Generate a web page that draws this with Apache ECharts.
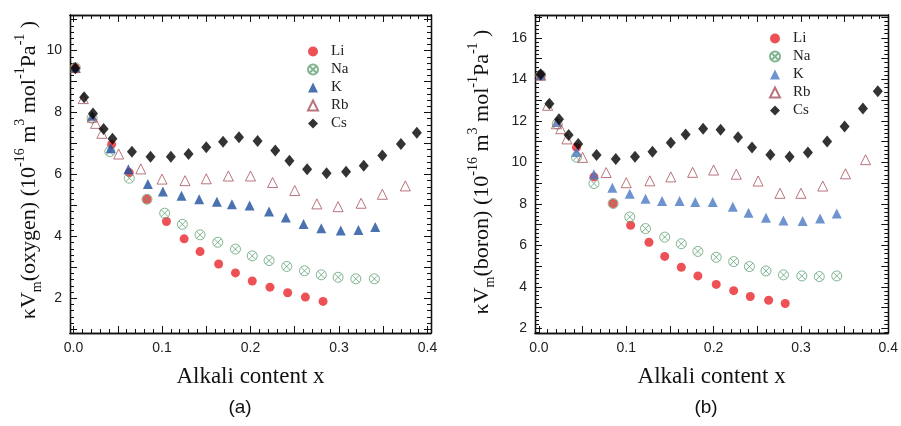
<!DOCTYPE html>
<html>
<head>
<meta charset="utf-8">
<script src="https://cdn.jsdelivr.net/npm/echarts@6/dist/echarts.min.js"></script>
<style>
html, body { margin: 0; padding: 0; background: #fff; }
#main { width: 901px; height: 426px; }
</style>
</head>
<body>
<div id="main"></div>
<script>
// tick labels
var xTickLabels = [0, 0.1, 0.2, 0.3, 0.4];
var yTickLabelsO = [2, 4, 6, 8, 10];
var yTickLabelsB = [2, 4, 6, 8, 10, 12, 14, 16];
var seriesNames = ['Li', 'Na', 'K', 'Rb', 'Cs'];

// (a) kappa*Vm (oxygen), pairs [x, value]
var oxLi = [[0.002,9.45],[0.043,6.97],[0.063,6.06],[0.083,5.2],[0.105,4.48],[0.125,3.92],[0.143,3.51],[0.164,3.11],[0.183,2.82],[0.202,2.56],[0.222,2.36],[0.242,2.18],[0.262,2.04],[0.282,1.9]];
var oxNa = [[0.002,9.45],[0.021,7.82],[0.041,6.74],[0.063,5.88],[0.083,5.2],[0.103,4.75],[0.123,4.39],[0.143,4.05],[0.163,3.81],[0.183,3.59],[0.202,3.37],[0.221,3.22],[0.241,3.03],[0.261,2.89],[0.28,2.76],[0.299,2.68],[0.319,2.63],[0.34,2.63]];
var oxK  = [[0.002,9.45],[0.021,7.9],[0.042,6.85],[0.062,6.17],[0.084,5.69],[0.101,5.45],[0.122,5.31],[0.142,5.2],[0.162,5.12],[0.179,5.04],[0.199,5.0],[0.221,4.8],[0.24,4.61],[0.26,4.4],[0.28,4.26],[0.302,4.19],[0.322,4.21],[0.341,4.3]];
var oxRb = [[0.002,9.45],[0.011,8.45],[0.021,7.85],[0.025,7.65],[0.032,7.33],[0.051,6.66],[0.076,6.18],[0.1,5.85],[0.126,5.8],[0.15,5.86],[0.175,5.95],[0.2,5.95],[0.225,5.74],[0.25,5.48],[0.275,5.05],[0.299,4.96],[0.325,5.07],[0.349,5.36],[0.375,5.63]];
var oxCs = [[0.002,9.43],[0.012,8.49],[0.022,7.97],[0.034,7.47],[0.044,7.15],[0.066,6.73],[0.087,6.57],[0.11,6.57],[0.13,6.66],[0.15,6.88],[0.169,7.06],[0.187,7.2],[0.208,7.08],[0.228,6.77],[0.244,6.44],[0.264,6.17],[0.286,6.04],[0.308,6.09],[0.328,6.28],[0.349,6.61],[0.37,6.98],[0.388,7.35]];

// (b) kappa*Vm (boron)
var boLi = [[0.002,14.2],[0.043,10.72],[0.063,9.3],[0.085,8.02],[0.105,6.97],[0.126,6.15],[0.144,5.47],[0.163,4.95],[0.182,4.53],[0.203,4.12],[0.223,3.82],[0.242,3.54],[0.263,3.36],[0.282,3.2]];
var boNa = [[0.002,14.2],[0.021,11.85],[0.043,10.25],[0.063,8.98],[0.085,8.02],[0.104,7.37],[0.122,6.81],[0.144,6.4],[0.163,6.08],[0.182,5.71],[0.203,5.43],[0.223,5.22],[0.241,4.98],[0.26,4.77],[0.28,4.58],[0.301,4.53],[0.321,4.5],[0.341,4.53]];
var boK  = [[0.002,14.2],[0.021,11.95],[0.043,10.5],[0.063,9.43],[0.084,8.78],[0.104,8.49],[0.122,8.25],[0.141,8.14],[0.161,8.14],[0.179,8.09],[0.199,8.09],[0.222,7.86],[0.24,7.57],[0.26,7.33],[0.28,7.2],[0.302,7.17],[0.322,7.3],[0.341,7.54]];
var boRb = [[0.002,14.2],[0.01,12.75],[0.02,11.86],[0.025,11.62],[0.032,11.13],[0.05,10.24],[0.077,9.51],[0.1,9.02],[0.127,9.11],[0.151,9.3],[0.176,9.52],[0.2,9.63],[0.226,9.43],[0.251,9.1],[0.276,8.51],[0.3,8.51],[0.325,8.86],[0.351,9.45],[0.374,10.13]];
var boCs = [[0.002,14.24],[0.012,12.83],[0.023,12.08],[0.034,11.32],[0.045,10.89],[0.066,10.35],[0.088,10.16],[0.11,10.27],[0.13,10.51],[0.151,10.94],[0.168,11.34],[0.188,11.62],[0.208,11.57],[0.228,11.21],[0.244,10.72],[0.265,10.37],[0.287,10.27],[0.308,10.48],[0.33,11.0],[0.35,11.73],[0.371,12.59],[0.388,13.43]];

var SERIF = "'Liberation Serif', 'DejaVu Serif', serif";
var SANS = "'Liberation Sans', Arial, sans-serif";
var naPath = 'path://M0,10A10,10,0,1,1,20,10A10,10,0,1,1,0,10ZM2.93,2.93L17.07,17.07M17.07,2.93L2.93,17.07';

// positions of ticks along an axis
function steps(min, max, step) {
    var out = [];
    var a = Math.ceil(min / step - 1e-9), b = Math.floor(max / step + 1e-9);
    for (var i = a; i <= b; i++) out.push(+(i * step).toFixed(4));
    return out;
}

function axis(grid, pos, min, max, ticks, len, labels, fmt, name) {
    var a = {
        type: 'value', gridIndex: grid, position: pos, min: min, max: max,
        axisLine: { show: true, onZero: false, lineStyle: { color: '#111', width: 1.3 } },
        axisTick: { show: true, inside: true, length: len, customValues: ticks, lineStyle: { color: '#111', width: 1 } },
        axisLabel: { show: false },
        splitLine: { show: false }
    };
    if (labels) {
        a.axisLabel = { show: true, customValues: labels, formatter: fmt, color: '#222',
            fontFamily: SANS, fontSize: 14, margin: 8 };
    }
    if (name) {
        a.name = name;
        a.nameLocation = 'middle';
        a.nameGap = 32;
        a.nameTextStyle = { fontFamily: SERIF, fontSize: 23, color: '#111' };
    }
    return a;
}

function xAxes(grid, min, max) {
    var fmt = function (v) { return v.toFixed(1); };
    return [
        axis(grid, 'bottom', min, max, steps(min, max, 0.05), 7, xTickLabels, fmt, 'Alkali content x'),
        axis(grid, 'bottom', min, max, steps(min, max, 0.01), 4),
        axis(grid, 'top', min, max, steps(min, max, 0.05), 7),
        axis(grid, 'top', min, max, steps(min, max, 0.01), 4)
    ];
}
function yAxes(grid, min, max, labels) {
    var fmt = function (v) { return String(Math.round(v)); };
    return [
        axis(grid, 'left', min, max, steps(min, max, 1), 7, labels, fmt),
        axis(grid, 'left', min, max, steps(min, max, 0.2), 4),
        axis(grid, 'right', min, max, steps(min, max, 1), 7),
        axis(grid, 'right', min, max, steps(min, max, 0.2), 4)
    ];
}

function panel(idx, data, kColor, rbColor) {
    var xi = idx * 4, yi = idx * 4;
    var styles = [
        { symbol: 'circle', symbolSize: 9, itemStyle: { color: '#e8262c' } },
        { symbol: naPath, symbolSize: 10, itemStyle: { color: 'transparent', borderColor: '#62a276', borderWidth: 1 } },
        { symbol: 'triangle', symbolSize: 10, itemStyle: { color: kColor } },
        { symbol: 'triangle', symbolSize: 10, itemStyle: { color: 'transparent', borderColor: rbColor, borderWidth: 1 } },
        { symbol: 'diamond', symbolSize: [10, 12], itemStyle: { color: '#000' } }
    ];
    return data.map(function (d, i) {
        return Object.assign({
            name: seriesNames[i], type: 'scatter', xAxisIndex: xi, yAxisIndex: yi,
            data: d, z: 2 + i
        }, styles[i]);
    });
}

function legend(left, top, kColor) {
    return {
        orient: 'vertical', left: left, top: top, padding: 0,
        itemWidth: 10, itemHeight: 10, itemGap: 1,
        data: seriesNames.map(function (n) {
            return n === 'K' ? { name: n, itemStyle: { color: kColor } } : n;
        }),
        textStyle: { fontFamily: SERIF, fontSize: 15, color: '#222', lineHeight: 17, padding: [0, 0, 0, 8] }
    };
}

var titleRich = {
    n: { fontFamily: SERIF, fontSize: 22, lineHeight: 31, verticalAlign: 'middle', fill: '#111' },
    sup: { fontFamily: SERIF, fontSize: 14, lineHeight: 14, verticalAlign: 'top', fill: '#111' },
    sub: { fontFamily: SERIF, fontSize: 14, lineHeight: 14, verticalAlign: 'bottom', fill: '#111' }
};
function yTitle(x, y, what) {
    return {
        type: 'text', x: x, y: y, rotation: Math.PI / 2,
        style: {
            text: '{n|κV}{sub|m}{n|(' + what + ') (10}{sup|-16}{n| m}{sup|3}{n| mol}{sup|-1}{n|Pa}{sup|-1}{n| )}',
            rich: titleRich, align: 'center', verticalAlign: 'middle'
        }
    };
}

var chart = echarts.init(document.getElementById('main'));
chart.setOption({
    backgroundColor: '#fff',
    animation: false,
    grid: [
        { left: 70, top: 15, width: 361, height: 318 },
        { left: 535, top: 15, width: 358, height: 318 }
    ],
    xAxis: xAxes(0, -0.004, 0.404).concat(xAxes(1, -0.0045, 0.4)),
    yAxis: yAxes(0, 0.88, 11.15, yTickLabelsO).concat(yAxes(1, 1.78, 17.1, yTickLabelsB)),
    legend: [legend(307, 43, '#1d4f9e'), legend(769, 30, '#4a78c2')],
    series: panel(0, [oxLi, oxNa, oxK, oxRb, oxCs], '#1d4f9e', '#a8525c')
        .concat(panel(1, [boLi, boNa, boK, boRb, boCs], '#4a78c2', '#a8525c')),
    graphic: [
        yTitle(29, 170, 'oxygen'),
        yTitle(482, 172, 'boron'),
        { type: 'text', x: 240, y: 408, style: { text: '(a)', font: '19px ' + SANS, fill: '#111', align: 'center', verticalAlign: 'middle' } },
        { type: 'text', x: 706, y: 408, style: { text: '(b)', font: '19px ' + SANS, fill: '#111', align: 'center', verticalAlign: 'middle' } }
    ]
});
</script>
</body>
</html>
